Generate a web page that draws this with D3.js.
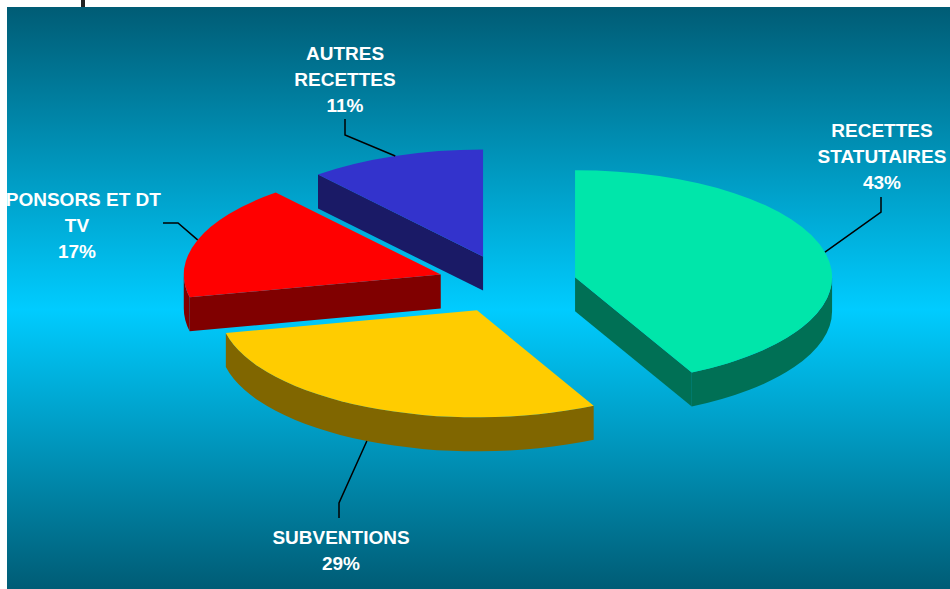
<!DOCTYPE html>
<html>
<head>
<meta charset="utf-8">
<script src="https://cdn.jsdelivr.net/npm/d3@7/dist/d3.min.js"></script>
<style>
  html, body { margin: 0; padding: 0; background: #ffffff; }
  svg { display: block; }
</style>
</head>
<body>
<svg id="chart" width="950" height="589"></svg>
<script>
// ---- data ----
const categories = ["RECETTES STATUTAIRES", "SUBVENTIONS", "SPONSORS ET DT TV", "AUTRES RECETTES"];
const labelLines = [["RECETTES", "STATUTAIRES"], ["SUBVENTIONS"], ["SPONSORS ET DT", "TV"], ["AUTRES", "RECETTES"]];
const values = [42.5, 29.1, 17.3, 11.1];   // percentages (labels show them rounded)

// ---- styles / layout ----
const topColors  = ["#00E6AA", "#FFCC00", "#FF0000", "#3333CC"];
const sideColors = ["#007055", "#806600", "#800000", "#1A1A66"];
const cx = 507, cy = 284, rx = 257, ry = 107, depth = 34, explode = 70;
// label anchor (center x, first baseline) and leader polyline start/knee
const labelLayout = [
  { x: 882, y: 137, lead: [[881, 197], [881, 212]] },
  { x: 341, y: 544, lead: [[339, 518], [339, 503]] },
  { x: 77,  y: 206, lead: [[163, 223], [178, 223]] },
  { x: 345, y: 60,  lead: [[345, 119], [345, 135]] }
];
const lineH = 25.8;

const svg = d3.select("#chart");
const defs = svg.append("defs");
const grad = defs.append("linearGradient").attr("id", "bg").attr("x1", 0).attr("y1", 0).attr("x2", 0).attr("y2", 1);
grad.append("stop").attr("offset", "0%").attr("stop-color", "#005C75");
grad.append("stop").attr("offset", "52%").attr("stop-color", "#00CCFF");
grad.append("stop").attr("offset", "100%").attr("stop-color", "#005C75");

svg.append("rect").attr("x", 81).attr("y", 0).attr("width", 4).attr("height", 8).attr("fill", "#222");
svg.append("rect").attr("x", 7).attr("y", 7).attr("width", 943).attr("height", 582).attr("fill", "url(#bg)");

const total = d3.sum(values);
const pie = d3.pie().sort(null).value(d => d).startAngle(0).endAngle(2 * Math.PI);
const arcs = pie(values).map((a, i) => {
  const mid = (a.startAngle + a.endAngle) / 2;
  const ox = cx + explode * Math.sin(mid);
  const oy = cy - explode * (ry / rx) * Math.cos(mid);
  return { ...a, i, mid, ox, oy };
});

function P(s, a, dz = 0) {
  return [s.ox + rx * Math.sin(a), s.oy - ry * Math.cos(a) + dz];
}

const gPie = svg.append("g");
const order = arcs.slice().sort((a, b) => a.oy - b.oy);

order.forEach(s => {
  const g = gPie.append("g");
  const a0 = s.startAngle, a1 = s.endAngle;
  const wall = (a) => {
    const p = P(s, a), q = P(s, a, depth);
    return `M${s.ox},${s.oy}L${p[0]},${p[1]}L${q[0]},${q[1]}L${s.ox},${s.oy + depth}Z`;
  };
  if (Math.sin(a0) < -1e-6) g.append("path").attr("d", wall(a0)).attr("fill", sideColors[s.i]);
  if (Math.sin(a1) > 1e-6) g.append("path").attr("d", wall(a1)).attr("fill", sideColors[s.i]);
  const f0 = Math.max(a0, Math.PI / 2), f1 = Math.min(a1, 3 * Math.PI / 2);
  if (f1 > f0) {
    const p0 = P(s, f0), p1 = P(s, f1), q1 = P(s, f1, depth), q0 = P(s, f0, depth);
    const large = (f1 - f0) > Math.PI ? 1 : 0;
    g.append("path")
      .attr("d", `M${p0[0]},${p0[1]}A${rx},${ry} 0 ${large} 1 ${p1[0]},${p1[1]}L${q1[0]},${q1[1]}A${rx},${ry} 0 ${large} 0 ${q0[0]},${q0[1]}Z`)
      .attr("fill", sideColors[s.i]);
  }
  const p0 = P(s, a0), p1 = P(s, a1);
  const large = (a1 - a0) > Math.PI ? 1 : 0;
  g.append("path")
    .attr("d", `M${s.ox},${s.oy}L${p0[0]},${p0[1]}A${rx},${ry} 0 ${large} 1 ${p1[0]},${p1[1]}Z`)
    .attr("fill", topColors[s.i]);
});

// leader lines and labels
const fmt = v => Math.round(v / total * 100) + "%";
arcs.forEach(s => {
  const L = labelLayout[s.i];
  const front = Math.cos(s.mid) < 0 && Math.abs(Math.sin(s.mid)) < 0.6;
  const end = P(s, s.mid, front ? depth : 0);
  const pts = [...L.lead, end];
  svg.append("path")
    .attr("d", d3.line()(pts))
    .attr("fill", "none").attr("stroke", "#000").attr("stroke-width", 1.5);
  const lines = [...labelLines[s.i], fmt(values[s.i])];
  const t = svg.append("text")
    .attr("x", L.x).attr("y", L.y)
    .attr("text-anchor", "middle")
    .attr("font-family", "'Liberation Sans', Arial, sans-serif")
    .attr("font-weight", "bold").attr("font-size", 19)
    .attr("fill", "#ffffff");
  lines.forEach((ln, k) => {
    t.append("tspan").attr("x", L.x).attr("y", L.y + k * lineH).text(ln);
  });
});
</script>
</body>
</html>
